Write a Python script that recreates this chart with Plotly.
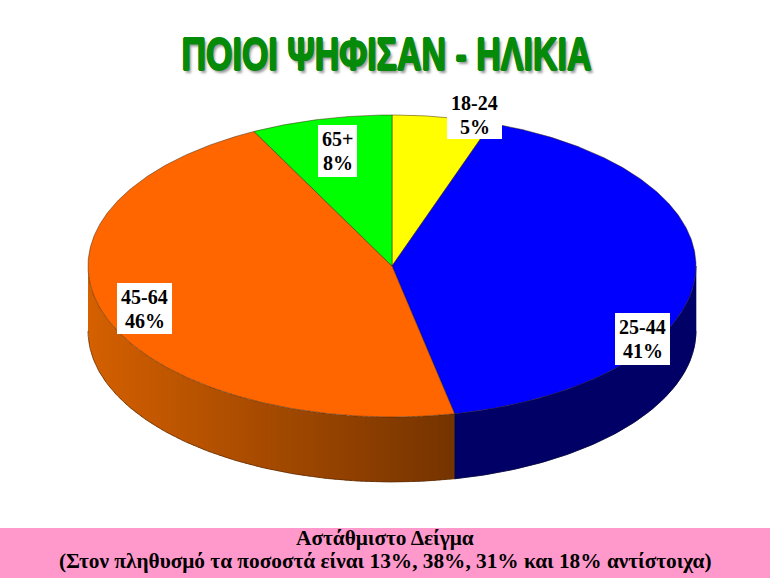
import math
import plotly.graph_objects as go

categories = ["18-24", "25-44", "45-64", "65+"]
values = [5.3, 41.4, 45.8, 7.5]
shown_pct = ["5%", "41%", "46%", "8%"]
top_colors = ["#FFFF00", "#0000FF", "#FF6600", "#00FF00"]
title_text = "ΠΟΙΟΙ ΨΗΦΙΣΑΝ - ΗΛΙΚΙΑ"
note_lines = ["Αστάθμιστο Δείγμα", "(Στον πληθυσμό τα ποσοστά είναι 13%, 38%, 31% και 18% αντίστοιχα)"]

W, H = 770, 578
CX, CY, RX, RY, DEPTH = 392, 266, 304, 151, 65
label_boxes = {"18-24": (474.5, 115, 55, 48), "25-44": (642.5, 339, 55, 52),
               "45-64": (144.5, 308.5, 55, 51), "65+": (337.5, 151, 39, 52)}

def pt(theta, dy=0):
    return CX + RX * math.sin(theta), CY - RY * math.cos(theta) + dy

def arc(a, b, dy=0, step=0.5):
    n = max(2, int(abs(math.degrees(b - a)) / step) + 1)
    pts = [pt(a + (b - a) * i / (n - 1), dy) for i in range(n)]
    return [p[0] for p in pts], [p[1] for p in pts]

fig = go.Figure()
total = sum(values)
edges = [0.0]
for v in values:
    edges.append(edges[-1] + v / total * 2 * math.pi)

def wall(a, b, color):
    x1, y1 = arc(a, b)
    x2, y2 = arc(b, a, DEPTH)
    fig.add_trace(go.Scatter(x=x1 + x2 + x1[:1], y=y1 + y2 + y1[:1], mode="lines", fill="toself",
                             fillcolor=color, line=dict(color=color, width=0.6), hoverinfo="skip", showlegend=False))

front_a, front_b = math.pi / 2, 3 * math.pi / 2
blue_a, blue_b = max(edges[1], front_a), min(edges[2], front_b)
wall(blue_a, blue_b, "#000066")

orange_a, orange_b = max(edges[2], front_a), min(edges[3], front_b)
strips = 70
x_right, x_left = pt(orange_a)[0], pt(orange_b)[0]
def shade(t):
    return "rgb(%d,%d,0)" % (212 - 94 * t, 96 - 44 * t)
for i in range(strips):
    xa = x_left + (x_right - x_left) * i / strips
    xb = min(x_left + (x_right - x_left) * (i + 1.4) / strips, x_right)
    a2 = math.pi - math.asin(max(-1, (xa - CX) / RX))
    b2 = math.pi - math.asin(max(-1, (xb - CX) / RX))
    lo, hi = max(min(a2, b2), orange_a), min(max(a2, b2), orange_b)
    x1, y1 = arc(lo, hi)
    x2, y2 = arc(hi, lo, DEPTH)
    fig.add_trace(go.Scatter(x=x1 + x2, y=y1 + y2, mode="lines", fill="toself", fillcolor=shade(i / (strips - 1)),
                             line=dict(width=0), hoverinfo="skip", showlegend=False))

for (a, b, col) in [(orange_a, orange_b, "#5A2800"), (blue_a, blue_b, "#000033")]:
    x2, y2 = arc(a, b, DEPTH)
    fig.add_trace(go.Scatter(x=x2, y=y2, mode="lines", line=dict(color=col, width=0.7), hoverinfo="skip", showlegend=False))
xe, ye = pt(edges[2])
fig.add_trace(go.Scatter(x=[xe, xe], y=[ye, ye + DEPTH], mode="lines", line=dict(color="#1a1000", width=0.6),
                         hoverinfo="skip", showlegend=False))

for i, c in enumerate(categories):
    xs, ys = arc(edges[i], edges[i + 1])
    fig.add_trace(go.Scatter(x=[CX] + xs + [CX], y=[CY] + ys + [CY], mode="lines", fill="toself", name=c,
                             fillcolor=top_colors[i], line=dict(color="rgba(50,30,0,0.8)", width=0.6),
                             hoverinfo="skip", showlegend=False))

serif = dict(family="Liberation Serif", color="#000000", weight="bold")
shapes = [dict(type="rect", xref="x", yref="y", x0=0, x1=W, y0=528, y1=H, fillcolor="#FF99CC", line=dict(width=0), layer="below")]
annos = []
for c, p in zip(categories, shown_pct):
    x, y, w, h = label_boxes[c]
    shapes.append(dict(type="rect", xref="x", yref="y", x0=x - w / 2, x1=x + w / 2, y0=y - h / 2, y1=y + h / 2,
                       fillcolor="white", line=dict(width=0), layer="above"))
    annos.append(dict(x=x, y=y - 12, xref="x", yref="y", text=c, showarrow=False, font=dict(size=20, **serif)))
    annos.append(dict(x=x, y=y + 12, xref="x", yref="y", text=p, showarrow=False, font=dict(size=20, **serif)))
annos.append(dict(x=386, y=54, xref="x", yref="y", text=title_text, showarrow=False,
                  font=dict(family="Liberation Sans", size=46, color="#068A0A", weight="bold",
                            shadow="1px 0 #068A0A, -1px 0 #068A0A, 0 1px #068A0A, 0 -1px #068A0A, 3px 3px 3px #999999")))
annos.append(dict(x=385, y=538, xref="x", yref="y", text=note_lines[0], showarrow=False, font=dict(size=21.3, **serif)))
annos.append(dict(x=385, y=561, xref="x", yref="y", text=note_lines[1], showarrow=False, font=dict(size=21.3, **serif)))

fig.update_layout(
    width=W, height=H, margin=dict(l=0, r=0, t=0, b=0), paper_bgcolor="white", plot_bgcolor="white",
    xaxis=dict(range=[0, W], visible=False, fixedrange=True),
    yaxis=dict(range=[H, 0], visible=False, fixedrange=True),
    shapes=shapes,
    annotations=annos,
)
post = """
document.documentElement.style.margin='0';
document.documentElement.style.overflow='hidden';
document.body.style.margin='0';
document.querySelectorAll('.annotation-text').forEach(function(t){
  if (t.textContent.indexOf('ΠΟΙΟΙ') === 0) {
    t.setAttribute('textLength', '410');
    t.setAttribute('lengthAdjust', 'spacingAndGlyphs');
  }
});
"""
fig.write_html("out.html", post_script=post, config={"displayModeBar": False})
